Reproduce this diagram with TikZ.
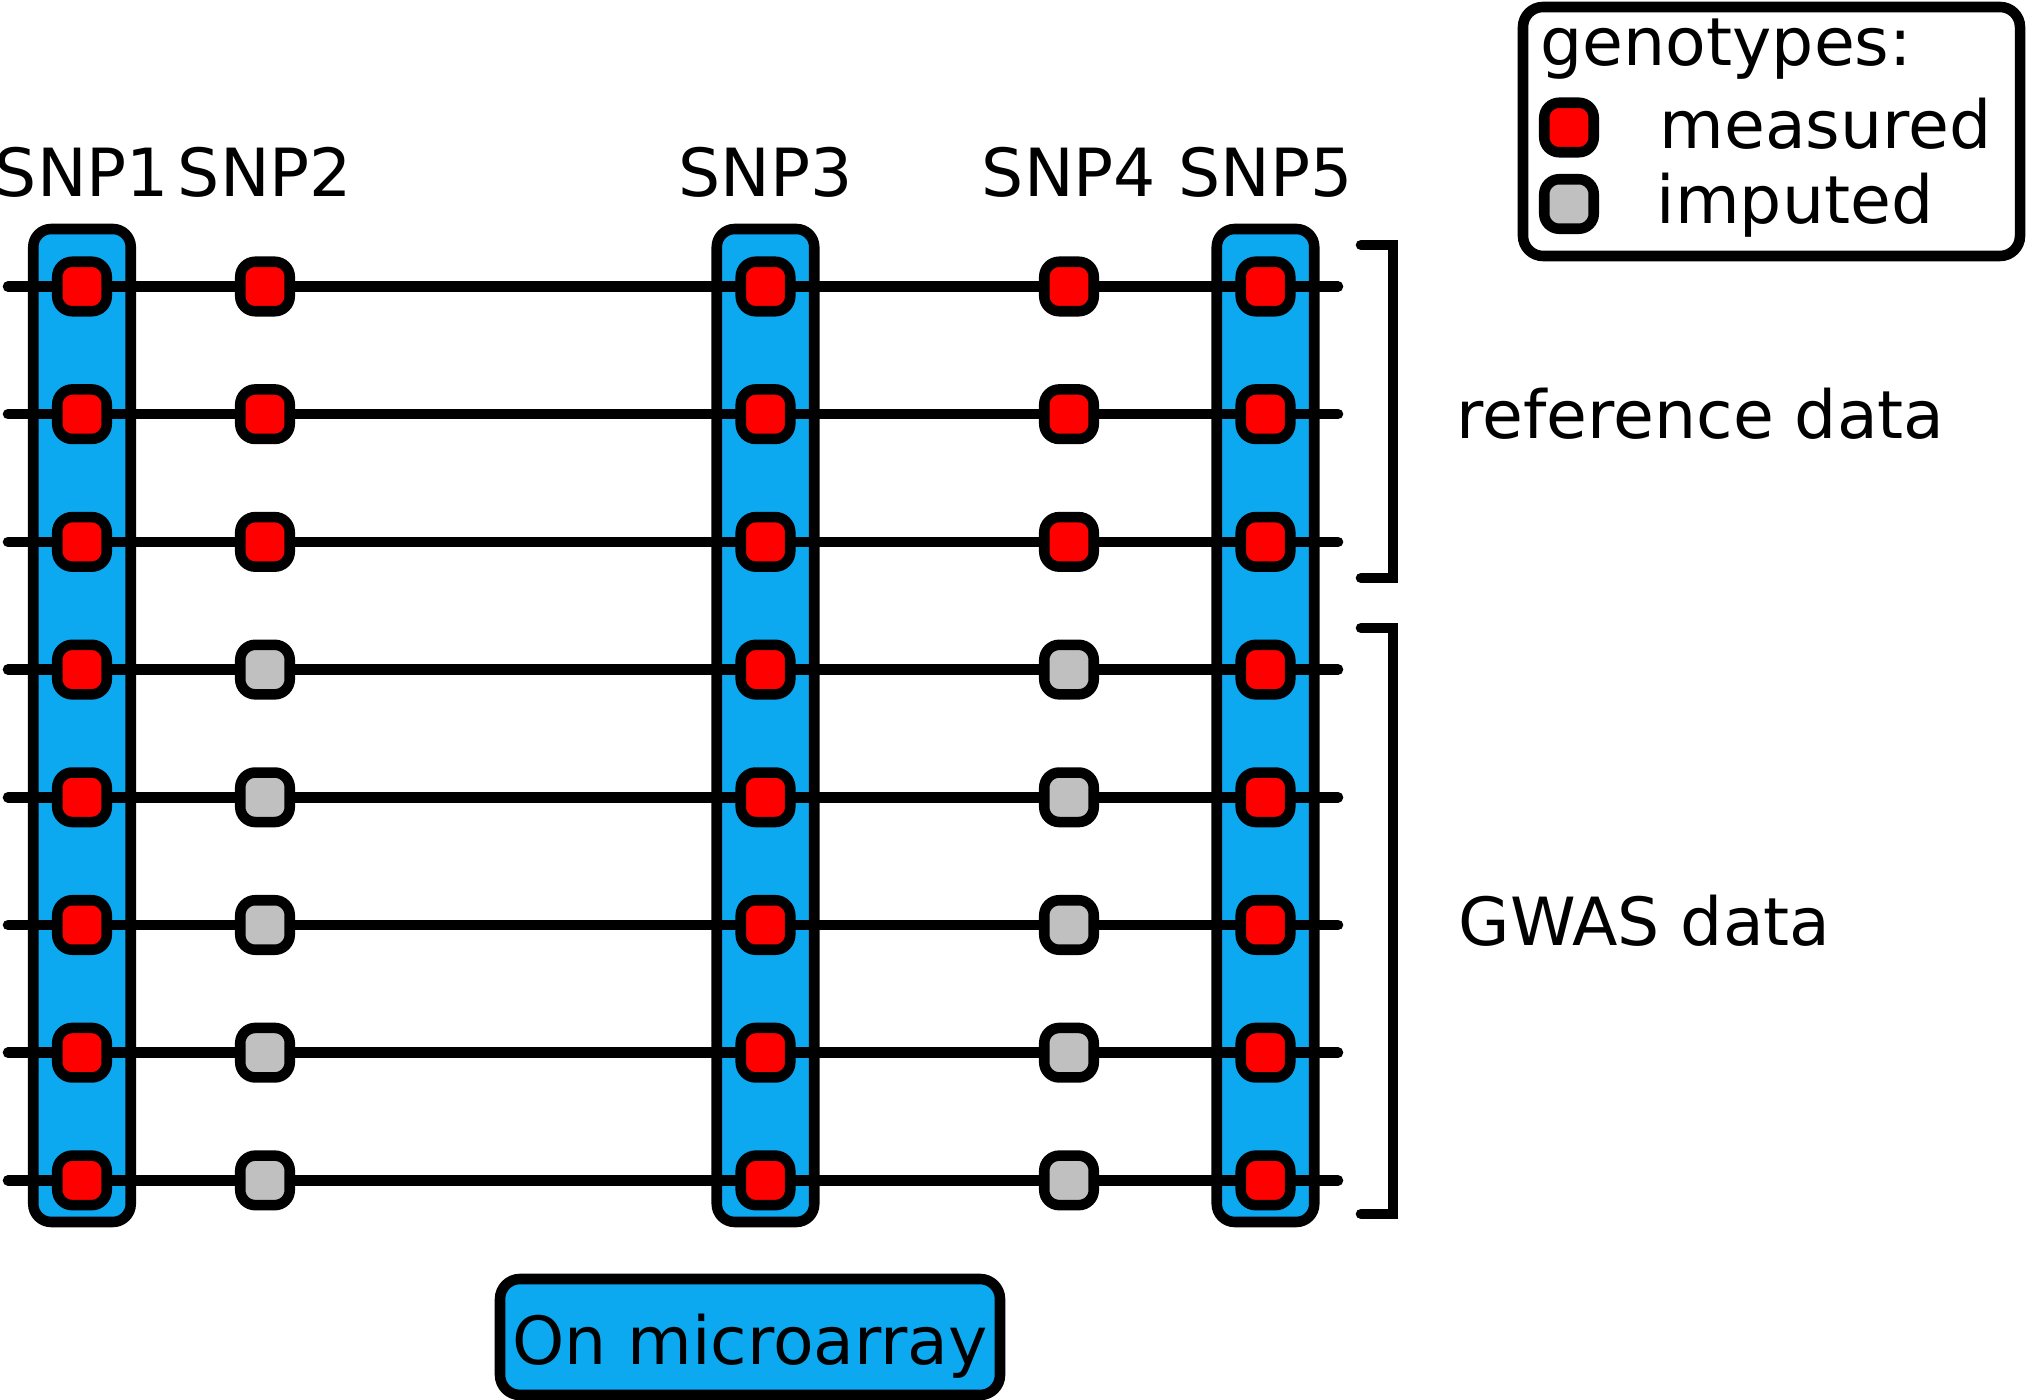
\documentclass[tikz,border=0pt]{standalone}
\usepackage{fontspec}
\setmainfont{DejaVu Sans}
\definecolor{chipblue}{RGB}{12,168,240}
\definecolor{impgray}{RGB}{192,192,192}
\tikzset{
  hap/.style={line width=3pt, line cap=round},
  chip/.style={draw, line width=3pt, fill=chipblue, rounded corners=0.18cm,
    minimum width=0.975cm, minimum height=9.93cm, inner sep=0pt},
  measured/.style={draw, line width=3pt, fill=red, rounded corners=0.15cm,
    minimum size=0.495cm, inner sep=0pt},
  imputed/.style={measured, fill=impgray},
  lbl/.style={font=\fontsize{18.9}{23}\selectfont, inner sep=0pt},
}

\begin{document}
\begin{tikzpicture}
      \useasboundingbox (0,0) rectangle (20.29,14);
      \foreach \c/\x in {1/0.82,3/7.655,5/12.655}
        \node[chip] (col\c) at (\x,6.745) {};
      \foreach \r in {1,...,8}{
        \coordinate (L\r) at (0.08,{11.135-1.277*(\r-1)});
        \coordinate (R\r) at (13.38,{11.135-1.277*(\r-1)});
        \draw[hap] (L\r) -- (R\r);
        \foreach \c/\x in {1/0.82,3/7.655,5/12.655}
          \node[measured] (d\r-\c) at (\x,{11.135-1.277*(\r-1)}) {};
      }
      \foreach \r in {1,2,3}{
        \node[measured] (d\r-2) at (2.65,{11.135-1.277*(\r-1)}) {};
        \node[measured] (d\r-4) at (10.69,{11.135-1.277*(\r-1)}) {};
      }
      \foreach \r in {4,...,8}{
        \node[imputed] (d\r-2) at (2.65,{11.135-1.277*(\r-1)}) {};
        \node[imputed] (d\r-4) at (10.69,{11.135-1.277*(\r-1)}) {};
      }
      \foreach \c/\x in {1/0.82,2/2.65,3/7.655,4/10.69,5/12.655}
        \node[lbl, anchor=base] (snp\c) at (\x,12.03) {SNP\c};
      \draw[hap] (13.61,11.55) -| (13.93,8.22) -- (13.61,8.22);
      \draw[hap] (13.61,7.72) -| (13.93,1.86) -- (13.61,1.86);
      \node[lbl, anchor=base west] (refdata) at (14.56,9.61) {reference data};
      \node[lbl, anchor=base west] (gwasdata) at (14.58,4.54) {GWAS data};
      \node[draw, line width=3pt, rounded corners=0.2cm, fill=white,
        minimum width=4.97cm, minimum height=2.49cm, inner sep=0pt] (legend) at (17.715,12.685) {};
      \node[lbl, anchor=base west] (gtitle) at (15.40,13.34) {genotypes:};
      \node[measured] (keym) at (15.69,12.725) {};
      \node[imputed] (keyi) at (15.69,11.96) {};
      \node[lbl, anchor=base west] (meas) at (16.59,12.515) {measured};
      \node[lbl, anchor=base west] (imp) at (16.56,11.76) {imputed};
      \node[chip, lbl, rounded corners=0.2cm, minimum width=5.0cm, minimum height=1.16cm,
        text height=0.56cm, text depth=0cm] (array) at (7.50,0.63) {On microarray};
\end{tikzpicture}
\end{document}
